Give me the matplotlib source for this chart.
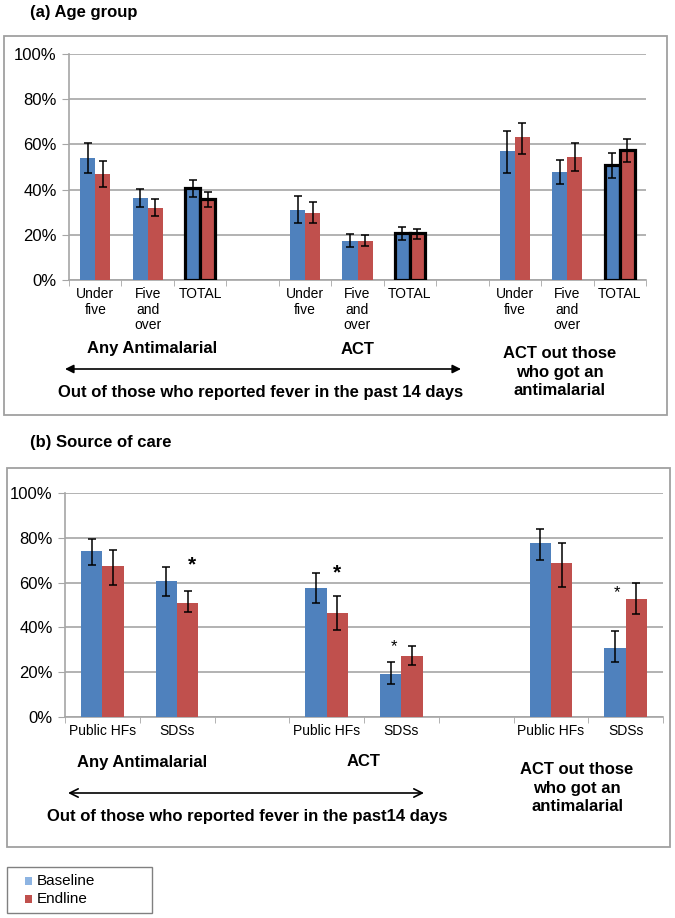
import matplotlib
matplotlib.use("Agg")
import matplotlib.pyplot as plt
from matplotlib.patches import Rectangle, FancyArrowPatch
import numpy as np

plt.rcParams['font.family'] = ['Liberation Sans', 'DejaVu Sans']

# ---------------- data ----------------
# Panel (a): Age group
a_labels = ["Under\nfive", "Five\nand\nover", "TOTAL", "",
            "Under\nfive", "Five\nand\nover", "TOTAL", "",
            "Under\nfive", "Five\nand\nover", "TOTAL"]
a_total = [False, False, True, False, False, False, True, False, False, False, True]
a_base = [53.8, 36.3, 40.6, None, 30.8, 17.4, 20.6, None, 57.1, 47.8, 51.0]
a_base_lo = [47.2, 32.4, 36.6, None, 25.1, 14.7, 17.7, None, 47.5, 42.5, 45.3]
a_base_hi = [60.5, 40.3, 44.1, None, 37.3, 20.2, 23.6, None, 66.1, 53.1, 56.3]
a_end = [46.9, 31.9, 35.8, None, 29.6, 17.4, 20.6, None, 63.1, 54.6, 57.5]
a_end_lo = [41.3, 28.2, 32.4, None, 25.1, 15.0, 18.3, None, 55.8, 48.4, 52.4]
a_end_hi = [52.7, 35.7, 39.1, None, 34.7, 20.1, 22.7, None, 69.6, 60.8, 62.2]

# Panel (b): Source of care
b_labels = ["Public HFs", "SDSs", "", "Public HFs", "SDSs", "", "Public HFs", "SDSs"]
b_base = [73.9, 60.7, None, 57.5, 19.1, None, 77.8, 31.0]
b_base_lo = [67.7, 54.1, None, 50.7, 14.7, None, 70.2, 24.4]
b_base_hi = [79.4, 67.1, None, 64.4, 24.4, None, 84.0, 38.5]
b_end = [67.3, 51.1, None, 46.4, 27.3, None, 68.9, 52.9]
b_end_lo = [59.0, 46.7, None, 39.0, 23.4, None, 58.2, 45.9]
b_end_hi = [74.7, 56.1, None, 54.2, 31.6, None, 77.8, 59.9]
# significance asterisk heights (percent) for the categories marked
b_star_y = [None, 71.0, None, 67.4, 34.0, None, None, 58.2]

series_names = ["Baseline", "Endline"]
group_names = ["Any Antimalarial", "ACT", "ACT out those\nwho got an\nantimalarial"]
yticks = [0, 20, 40, 60, 80, 100]

BLUE = "#4F81BD"
RED = "#C0504D"
GRID = "#A6A6A6"

W, H = 675, 918
fig = plt.figure(figsize=(W / 100, H / 100), dpi=100)


def ax_rect(x0, y0, x1, y1):
    return [x0 / W, 1 - y1 / H, (x1 - x0) / W, (y1 - y0) / H]


def fx(x):
    return x / W


def fy(y):
    return 1 - y / H


def box(x0, y0, x1, y1, ec="#A0A0A0", lw=1.3):
    fig.patches.append(Rectangle((fx(x0), fy(y1)), fx(x1) - fx(x0), fy(y0) - fy(y1),
                                 transform=fig.transFigure, fill=False,
                                 edgecolor=ec, lw=lw, zorder=0))


def draw_panel(ax, labels, base, blo, bhi, end, elo, ehi, totals, bw, lab_size):
    n = len(labels)
    x = np.arange(n)
    for i in range(n):
        if base[i] is None:
            continue
        for val, lo, hi, col, off in ((base[i], blo[i], bhi[i], BLUE, -bw / 2),
                                       (end[i], elo[i], ehi[i], RED, bw / 2)):
            ax.bar(x[i] + off, val, width=bw, color=col,
                   edgecolor="black" if totals[i] else "none",
                   linewidth=2.3 if totals[i] else 0, zorder=3)
            ax.errorbar(x[i] + off, val, yerr=[[val - lo], [hi - val]], fmt="none",
                        ecolor="black", elinewidth=1.1, capsize=2.8, capthick=1.1, zorder=4)
    ax.set_xlim(-0.5, n - 0.5)
    ax.set_ylim(0, 100)
    ax.set_yticks(yticks)
    ax.set_yticklabels([f"{t}%" for t in yticks], fontsize=12)
    ax.yaxis.grid(True, color=GRID, lw=1.2)
    ax.set_axisbelow(True)
    ax.set_xticks(x)
    ax.set_xticklabels(labels, fontsize=lab_size, va="top", linespacing=1.15)
    ax.tick_params(axis="x", which="major", length=0, pad=5)
    ax.set_xticks(np.arange(n + 1) - 0.5, minor=True)
    ax.tick_params(axis="x", which="minor", length=4, color=GRID, direction="out")
    ax.tick_params(axis="y", length=5, color=GRID, pad=4)
    for s in ("top", "right"):
        ax.spines[s].set_visible(False)
    for s in ("left", "bottom"):
        ax.spines[s].set_color(GRID)
        ax.spines[s].set_linewidth(1.2)
    return x


# ---------------- panel (a) ----------------
box(4, 36, 667, 415)
fig.text(fx(30), fy(12), "(a) Age group", fontsize=12, fontweight="bold", va="center")
axa = fig.add_axes(ax_rect(69, 54, 646, 280))
draw_panel(axa, a_labels, a_base, a_base_lo, a_base_hi, a_end, a_end_lo, a_end_hi,
           a_total, 0.286, 10)
fig.text(fx(152), fy(349), group_names[0], fontsize=12, fontweight="bold", ha="center", va="center")
fig.text(fx(358), fy(349), group_names[1], fontsize=12, fontweight="bold", ha="center", va="center")
fig.text(fx(560), fy(372), group_names[2], fontsize=12, fontweight="bold", ha="center",
         va="center", linespacing=1.3)
fig.patches.append(FancyArrowPatch(
    (fx(65), fy(369)), (fx(461), fy(369)), transform=fig.transFigure,
    arrowstyle="<|-|>,head_length=5,head_width=2.5", color="black", lw=1.2,
    shrinkA=0, shrinkB=0))
fig.text(fx(261), fy(392), "Out of those who reported fever in the past 14 days",
         fontsize=12, fontweight="bold", ha="center", va="center")

# ---------------- panel (b) ----------------
box(7, 468, 670, 847)
fig.text(fx(30), fy(443), "(b) Source of care", fontsize=12, fontweight="bold", va="center")
axb = fig.add_axes(ax_rect(65, 493, 663, 717))
xb = draw_panel(axb, b_labels, b_base, b_base_lo, b_base_hi, b_end, b_end_lo, b_end_hi,
                [False] * len(b_labels), 0.285, 10)
# significance markers
star_style = {1: (0.2, 15), 3: (0.14, 15), 4: (-0.1, 12), 7: (-0.115, 12)}
for i, sy in enumerate(b_star_y):
    if sy is None:
        continue
    dx, fs = star_style[i]
    axb.annotate("*", xy=(xb[i] + dx, sy), xytext=(0, -0.6 * fs), textcoords="offset points",
                 fontsize=fs, ha="center", va="baseline",
                 fontweight="bold" if fs > 13 else "normal", zorder=5)

fig.text(fx(142), fy(762), group_names[0], fontsize=12, fontweight="bold", ha="center", va="center")
fig.text(fx(364), fy(762), group_names[1], fontsize=12, fontweight="bold", ha="center", va="center")
fig.text(fx(577), fy(788), group_names[2], fontsize=12, fontweight="bold", ha="center",
         va="center", linespacing=1.3)
fig.patches.append(FancyArrowPatch(
    (fx(68), fy(793)), (fx(424), fy(793)), transform=fig.transFigure,
    arrowstyle="<->,head_length=6,head_width=3", color="black", lw=1.2,
    shrinkA=0, shrinkB=0))
fig.text(fx(247), fy(817), "Out of those who reported fever in the past14 days",
         fontsize=12, fontweight="bold", ha="center", va="center")

# ---------------- legend (drawn as a framed key) ----------------
box(7, 867, 152, 913, ec="#808080", lw=1.0)
legend_colors = ["#8DB4E2", RED]
for k, (name, col) in enumerate(zip(series_names, legend_colors)):
    yc = 881 + 18 * k
    fig.patches.append(Rectangle((fx(25), fy(yc + 4)), fx(32) - fx(25), fy(yc - 4) - fy(yc + 4),
                                 transform=fig.transFigure, facecolor=col, edgecolor="none"))
    fig.text(fx(37), fy(yc), name, fontsize=11, va="center", ha="left")

fig.savefig("out.png", dpi=100)
